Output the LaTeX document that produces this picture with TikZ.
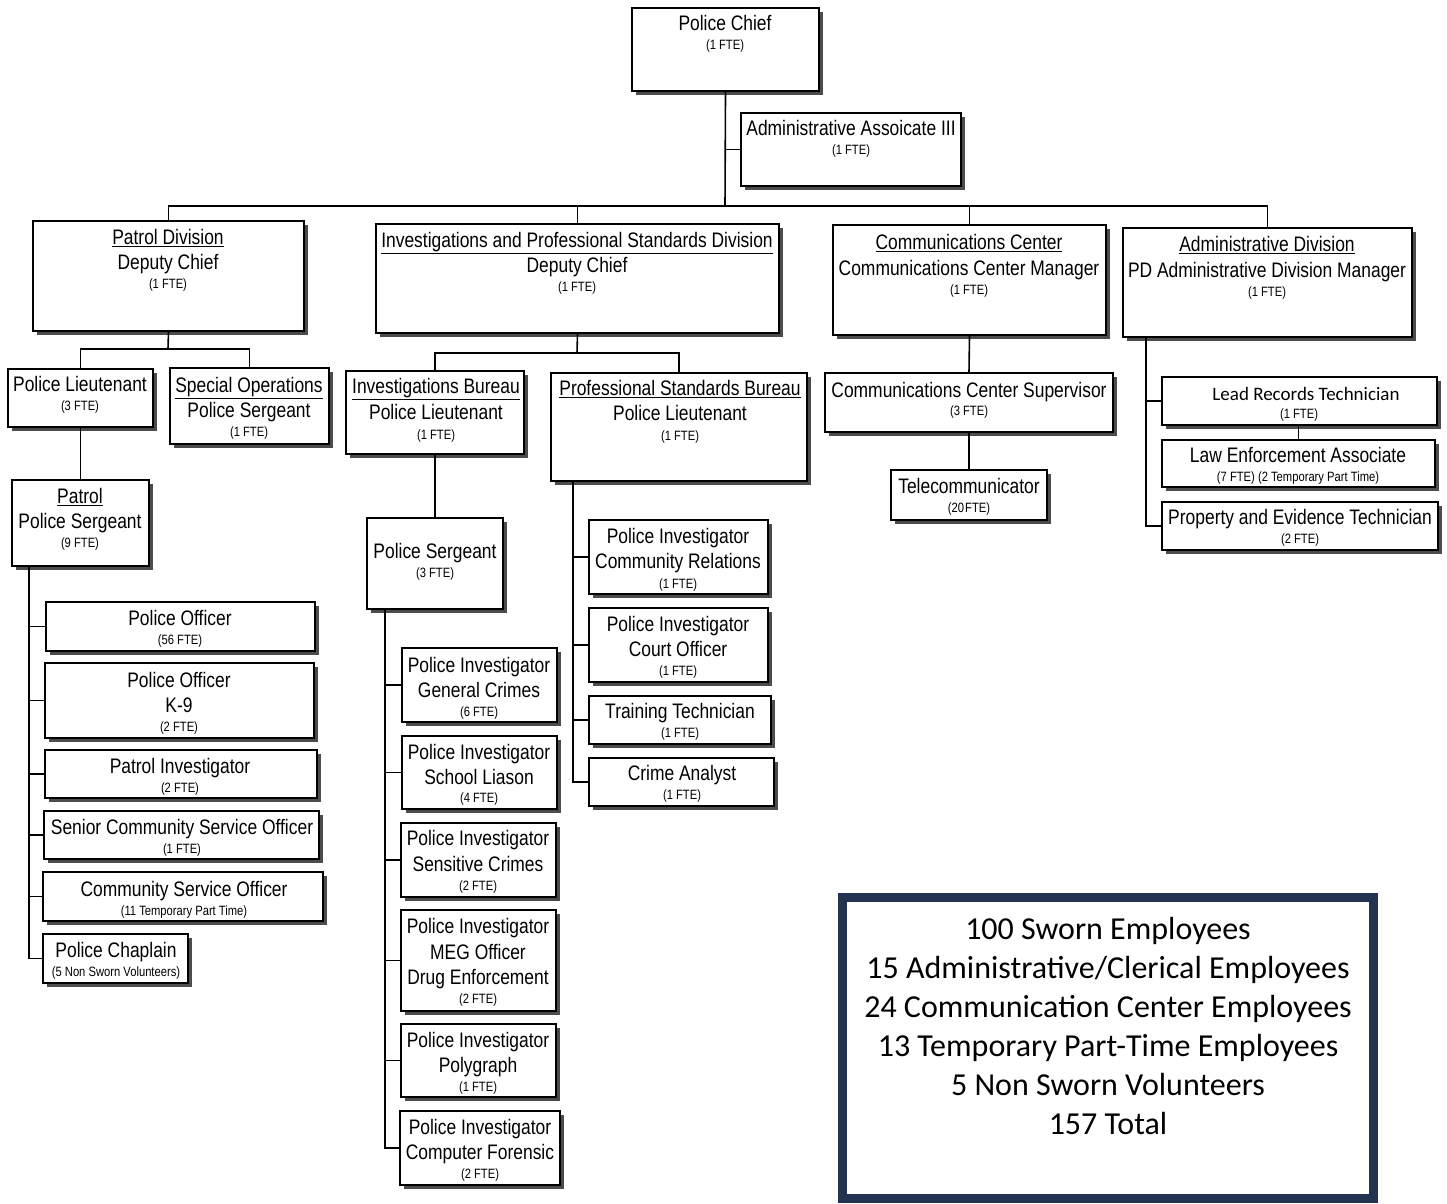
\documentclass[tikz,border=0pt]{standalone}
\usepackage{fontspec}
\setmainfont{Liberation Sans}[FakeStretch=0.83]
\newfontfamily\calfont{Carlito}
\usetikzlibrary{fit,shadows}
\definecolor{navy}{HTML}{243350}
\tikzset{
 box/.style={draw=black, line width=1.6pt, fill=white, inner sep=0pt,
   drop shadow={shadow xshift=4pt, shadow yshift=-4pt, fill=black!70, opacity=1}},
 big/.style={font=\fontsize{21}{25}\selectfont, text height=15pt, text depth=0pt, inner sep=0pt},
 small/.style={font=\fontsize{13.5}{16}\selectfont, text height=9.7pt, text depth=0pt, inner sep=0pt},
 conn/.style={line width=1.6pt},
 sumtxt/.style={font=\calfont\fontsize{32}{38}\selectfont, inner sep=0pt, text height=20.6pt, text depth=0pt}
}
\newcommand\bx[5]{\node[box, fit={(#2,#3) (#4,#5)}] (#1) {};}
\newcommand\tb[4]{\node[big] (#1) at (#2,#3) {#4};}
\newcommand\ts[4]{\node[small] (#1) at (#2,#3) {#4};}
\begin{document}
\begin{tikzpicture}[x=1pt,y=-1pt]
\fill[white] (0,0) rectangle (1447,1203);
\useasboundingbox (0,0) rectangle (1447,1203);

% ---------- boxes ----------
\bx{chief}{632}{8}{819}{91}
\bx{admin3}{741}{113}{961}{186}
\bx{patrol}{33}{221}{304}{331}
\bx{ipsd}{376}{224}{779}{333}
\bx{comm}{833}{225}{1106}{335}
\bx{admdiv}{1123}{228}{1412}{337}
\bx{plt}{8}{369}{153}{427}
\bx{specops}{170}{368}{329}{444}
\bx{psgt}{12}{480}{149}{566}
\bx{po}{46}{602}{315}{651}
\bx{kn}{45}{663}{314}{738}
\bx{pinv}{45}{750}{317}{798}
\bx{scso}{44}{811}{319}{859}
\bx{cso}{43}{872}{323}{921}
\bx{chap}{43}{934}{188}{983}
\bx{ib}{346}{371}{524}{454}
\bx{psb}{551}{373}{807}{481}
\bx{isgt}{367}{518}{503}{609}
\bx{pigc}{402}{648}{557}{722}
\bx{pisl}{402}{736}{557}{809}
\bx{pisc}{401}{823}{556}{897}
\bx{pimeg}{401}{910}{556}{1011}
\bx{pipoly}{401}{1024}{556}{1097}
\bx{picf}{400}{1111}{560}{1185}
\bx{picr}{589}{520}{768}{594}
\bx{pico}{589}{608}{768}{682}
\bx{tt}{589}{696}{771}{744}
\bx{ca}{589}{758}{774}{806}
\bx{ccs}{825}{373}{1113}{432}
\bx{tel}{891}{470}{1047}{520}
\bx{lrt}{1162}{377}{1437}{425}
\bx{lea}{1162}{440}{1435}{487}
\bx{pet}{1162}{502}{1438}{550}

% ---------- texts ----------
\tb{chiefA}{725}{23}{Police Chief}
\ts{chiefB}{725}{45}{(1 FTE)}
\tb{admin3A}{851}{128}{Administrative Assoicate III}
\ts{admin3B}{851}{150}{(1 FTE)}
\tb{patrolA}{168}{237}{\underline{Patrol Division}}
\tb{patrolB}{168}{262}{Deputy Chief}
\ts{patrolC}{168}{284}{(1 FTE)}
\tb{ipsdA}{577}{240}{\underline{Investigations and Professional Standards Division}}
\tb{ipsdB}{577}{265}{Deputy Chief}
\ts{ipsdC}{577}{287}{(1 FTE)}
\tb{commA}{969}{242}{\underline{Communications Center}}
\tb{commB}{969}{268}{Communications Center Manager}
\ts{commC}{969}{290}{(1 FTE)}
\tb{admdivA}{1267}{244}{\underline{Administrative Division}}
\tb{admdivB}{1267}{270}{PD Administrative Division Manager}
\ts{admdivC}{1267}{292}{(1 FTE)}
\tb{pltA}{80}{384}{Police Lieutenant}
\ts{pltB}{80}{406}{(3 FTE)}
\tb{specopsA}{249}{385}{\underline{Special Operations}}
\tb{specopsB}{249}{410}{Police Sergeant}
\ts{specopsC}{249}{432}{(1 FTE)}
\tb{psgtA}{80}{496}{\underline{Patrol}}
\tb{psgtB}{80}{521}{Police Sergeant}
\ts{psgtC}{80}{543}{(9 FTE)}
\tb{poA}{180}{618}{Police Officer}
\ts{poB}{180}{640}{(56 FTE)}
\tb{knA}{179}{680}{Police Officer}
\tb{knB}{179}{705}{K-9}
\ts{knC}{179}{727}{(2 FTE)}
\tb{pinvA}{180}{766}{Patrol Investigator}
\ts{pinvB}{180}{788}{(2 FTE)}
\tb{scsoA}{182}{827}{Senior Community Service Officer}
\ts{scsoB}{182}{849}{(1 FTE)}
\tb{csoA}{184}{889}{Community Service Officer}
\ts{csoB}{184}{911}{(11 Temporary Part Time)}
\tb{chapA}{116}{950}{Police Chaplain}
\ts{chapB}{116}{972}{(5 Non Sworn Volunteers)}
\tb{ibA}{436}{386}{\underline{Investigations Bureau}}
\tb{ibB}{436}{412}{Police Lieutenant}
\ts{ibC}{436}{435}{(1 FTE)}
\tb{psbA}{680}{388}{\underline{Professional Standards Bureau}}
\tb{psbB}{680}{413}{Police Lieutenant}
\ts{psbC}{680}{436}{(1 FTE)}
\tb{isgtA}{435}{551}{Police Sergeant}
\ts{isgtB}{435}{573}{(3 FTE)}
\tb{pigcA}{479}{665}{Police Investigator}
\tb{pigcB}{479}{690}{General Crimes}
\ts{pigcC}{479}{712}{(6 FTE)}
\tb{pislA}{479}{752}{Police Investigator}
\tb{pislB}{479}{777}{School Liason}
\ts{pislC}{479}{798}{(4 FTE)}
\tb{piscA}{478}{838}{Police Investigator}
\tb{piscB}{478}{864}{Sensitive Crimes}
\ts{piscC}{478}{886}{(2 FTE)}
\tb{pimegA}{478}{926}{Police Investigator}
\tb{pimegB}{478}{952}{MEG Officer}
\tb{pimegC}{478}{977}{Drug Enforcement}
\ts{pimegD}{478}{999}{(2 FTE)}
\tb{pipolyA}{478}{1040}{Police Investigator}
\tb{pipolyB}{478}{1065}{Polygraph}
\ts{pipolyC}{478}{1087}{(1 FTE)}
\tb{picfA}{480}{1127}{Police Investigator}
\tb{picfB}{480}{1152}{Computer Forensic}
\ts{picfC}{480}{1174}{(2 FTE)}
\tb{picrA}{678}{536}{Police Investigator}
\tb{picrB}{678}{561}{Community Relations}
\ts{picrC}{678}{584}{(1 FTE)}
\tb{picoA}{678}{624}{Police Investigator}
\tb{picoB}{678}{649}{Court Officer}
\ts{picoC}{678}{671}{(1 FTE)}
\tb{ttA}{680}{711}{Training Technician}
\ts{ttB}{680}{733}{(1 FTE)}
\tb{caA}{682}{773}{Crime Analyst}
\ts{caB}{682}{795}{(1 FTE)}
\tb{ccsA}{969}{390}{Communications Center Supervisor}
\ts{ccsB}{969}{411}{(3 FTE)}
\tb{telA}{969}{486}{Telecommunicator}
\ts{telB}{969}{508}{(20\kern1pt FTE)}
\node[big, font=\calfont\fontsize{19}{23}\selectfont, text height=12.5pt] (lrtA) at (1306,394) {Lead Records Technician};
\ts{lrtB}{1299}{414}{(1 FTE)}
\tb{leaA}{1298}{455}{Law Enforcement Associate}
\ts{leaB}{1298}{477}{(7 FTE) (2 Temporary Part Time)}
\tb{petA}{1300}{517}{Property and Evidence Technician}
\ts{petB}{1300}{539}{(2 FTE)}

% ---------- connectors ----------
\coordinate (bus) at (725,206);
\draw[conn] (chief.south) -- (bus);
\draw[conn] (admin3.west) -- (admin3.west -| chief.south);
\draw[conn] (patrol.north) |- (bus) -| (admdiv.north);
\draw[conn] (ipsd.north) -- (ipsd.north |- bus);
\draw[conn] (comm.north) -- (comm.north |- bus);

\coordinate (pj) at (168,349);
\draw[conn] (patrol.south) -- (pj);
\draw[conn] (plt.north) |- (pj) -| (specops.north);
\draw[conn] (plt.south) -- (plt.south |- psgt.north);
\coordinate (pvt) at (29,566);
\draw[conn] (pvt) |- (chap.west);
\foreach \n in {po,kn,pinv,scso,cso} \draw[conn] (\n.west) -- (\n.west -| pvt);

\coordinate (ij) at (577,353);
\draw[conn] (ipsd.south) -- (ij);
\draw[conn] (ib.north) |- (ij) -| (psb.north);
\draw[conn] (ib.south) -- (ib.south |- isgt.north);
\coordinate (ivt) at (385,609);
\draw[conn] (ivt) |- (picf.west);
\foreach \n in {pigc,pisl,pisc,pimeg,pipoly} \draw[conn] (\n.west) -- (\n.west -| ivt);
\coordinate (svt) at (573,481);
\draw[conn] (svt) |- (ca.west);
\foreach \n in {picr,pico,tt} \draw[conn] (\n.west) -- (\n.west -| svt);

\draw[conn] (comm.south) -- (ccs.north);
\draw[conn] (ccs.south) -- (tel.north);

\coordinate (avt) at (1146,337);
\draw[conn] (avt) |- (pet.west);
\draw[conn] (lrt.west) -- (lrt.west -| avt);
\draw[conn] (lrt.south -| lea.north) -- (lea.north);

% ---------- summary ----------
\node[draw=navy, line width=9pt, fill=white, minimum width=531pt, minimum height=301pt, inner sep=0pt] (summary) at (1108,1048) {};
\node[sumtxt] (sumA) at (1108,929) {100 Sworn Employees};
\node[sumtxt] (sumB) at (1108,968) {15 Administrative/Clerical Employees};
\node[sumtxt] (sumC) at (1108,1007) {24 Communication Center Employees};
\node[sumtxt] (sumD) at (1108,1046) {13 Temporary Part-Time Employees};
\node[sumtxt] (sumE) at (1108,1085) {5 Non Sworn Volunteers};
\node[sumtxt] (sumF) at (1108,1124) {157 Total};
\end{tikzpicture}
\end{document}
